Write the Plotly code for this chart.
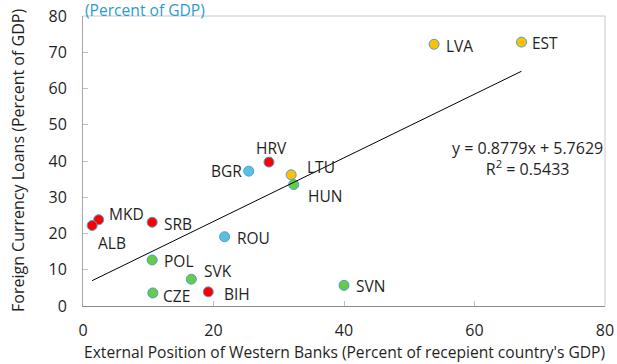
import plotly.graph_objects as go

# Country codes and their values
countries = ["EST", "LVA", "HRV", "BGR", "LTU", "HUN", "MKD", "ALB",
             "SRB", "ROU", "POL", "SVK", "CZE", "BIH", "SVN"]
bank_position = [67.2, 53.8, 28.5, 25.4, 31.9, 32.3, 2.4, 1.4,
                 10.6, 21.7, 10.6, 16.6, 10.7, 19.2, 40.0]
fx_loans = [72.8, 72.2, 39.7, 37.2, 36.2, 33.5, 23.8, 22.2,
            23.1, 19.1, 12.7, 7.4, 3.6, 3.9, 5.7]
groups = ["gold", "gold", "red", "blue", "gold", "green", "red", "red",
          "red", "blue", "green", "green", "green", "red", "green"]

# Linear fit reported on the chart
slope = 0.8779
intercept = 5.7629
r_squared = 0.5433

x_ticks = [0, 20, 40, 60, 80]
y_ticks = [0, 10, 20, 30, 40, 50, 60, 70, 80]

palette = {"red": "#ff0000", "gold": "#ffc000", "blue": "#5bc0e0", "green": "#66cc44"}

# label placement: (xanchor, xshift, yshift)
label_place = {
    "EST": ("left", 9, -1), "LVA": ("left", 10, -2), "HRV": ("center", 3, 14),
    "BGR": ("right", -5, 0), "LTU": ("left", 14, 8), "HUN": ("left", 12, -11),
    "MKD": ("left", 8, 6), "ALB": ("left", 4, -17), "SRB": ("left", 10, -2),
    "ROU": ("left", 10, -1), "POL": ("left", 10, -1), "SVK": ("left", 11, 8),
    "CZE": ("left", 8, -3), "BIH": ("left", 14, -2), "SVN": ("left", 10, -1),
}

FONT = "Segoe UI, Open Sans, sans-serif"
TEXT = "#1f1f1f"

fig = go.Figure()

fig.add_trace(go.Scatter(
    x=bank_position, y=fx_loans, mode="markers",
    marker=dict(size=10, color=[palette[g] for g in groups],
                line=dict(width=1, color="#4a9fd6")),
    hoverinfo="text", text=countries, showlegend=False,
))

x0, x1 = min(bank_position), max(bank_position)
fig.add_trace(go.Scatter(
    x=[x0, x1], y=[slope * x0 + intercept, slope * x1 + intercept],
    mode="lines", line=dict(color="#000000", width=1), showlegend=False,
    hoverinfo="skip",
))

annotations = []
for c, xv, yv in zip(countries, bank_position, fx_loans):
    anchor, dx, dy = label_place[c]
    annotations.append(dict(
        x=xv, y=yv, text=c, showarrow=False, xanchor=anchor, yanchor="middle",
        xshift=dx, yshift=dy, font=dict(family=FONT, size=15.5, color=TEXT),
    ))

# regression equation
annotations.append(dict(
    x=0.852, y=0.507, xref="paper", yref="paper",
    text=f"y = {slope}x + {intercept}<br>R<sup>2</sup> = {r_squared}",
    showarrow=False, xanchor="center", yanchor="middle", align="center",
    font=dict(family=FONT, size=16, color=TEXT),
))

# unit note above the plot
annotations.append(dict(
    x=0, y=1.0, xref="paper", yref="paper", yshift=6,
    text="(Percent of GDP)", showarrow=False, xanchor="left", yanchor="middle",
    font=dict(family=FONT, size=15.6, color="#2e9bd0"),
))

# axis titles
annotations.append(dict(
    x=0.5, y=0, xref="paper", yref="paper", yshift=-46,
    text="External Position of Western Banks (Percent of recepient country's GDP)",
    showarrow=False, xanchor="center", yanchor="middle",
    font=dict(family=FONT, size=15.6, color=TEXT),
))
annotations.append(dict(
    x=0, y=0.5, xref="paper", yref="paper", xshift=-65, textangle=-90,
    text="Foreign Currency Loans (Percent of GDP)",
    showarrow=False, xanchor="center", yanchor="middle",
    font=dict(family=FONT, size=16, color=TEXT),
))

fig.update_layout(
    width=617, height=364,
    margin=dict(l=83, r=12, t=16, b=58),
    paper_bgcolor="white", plot_bgcolor="white",
    font=dict(family=FONT, size=16, color=TEXT),
    annotations=annotations,
)

fig.update_xaxes(
    range=[0, 80], tickvals=x_ticks, showgrid=False, zeroline=False,
    showline=True, linecolor="#8c8c8c", linewidth=1, automargin=False,
    ticks="inside", ticklen=5, tickcolor="#bfbfbf",
    ticklabelstandoff=10, tickfont=dict(size=16),
)
fig.update_yaxes(
    range=[0, 80], tickvals=y_ticks, showgrid=False, zeroline=False,
    showline=True, linecolor="#a6a6a6", linewidth=1, automargin=False,
    ticks="inside", ticklen=5, tickcolor="#bfbfbf",
    ticklabelstandoff=12, tickfont=dict(size=16),
)

# light frame along the top and right of the plot area
fig.add_shape(type="line", xref="paper", yref="paper", x0=0, x1=1, y0=1, y1=1,
              line=dict(color="#c8c8c8", width=1))
fig.add_shape(type="line", xref="paper", yref="paper", x0=1, x1=1, y0=0, y1=1,
              line=dict(color="#c8c8c8", width=1))

fig.write_html("out.html")
